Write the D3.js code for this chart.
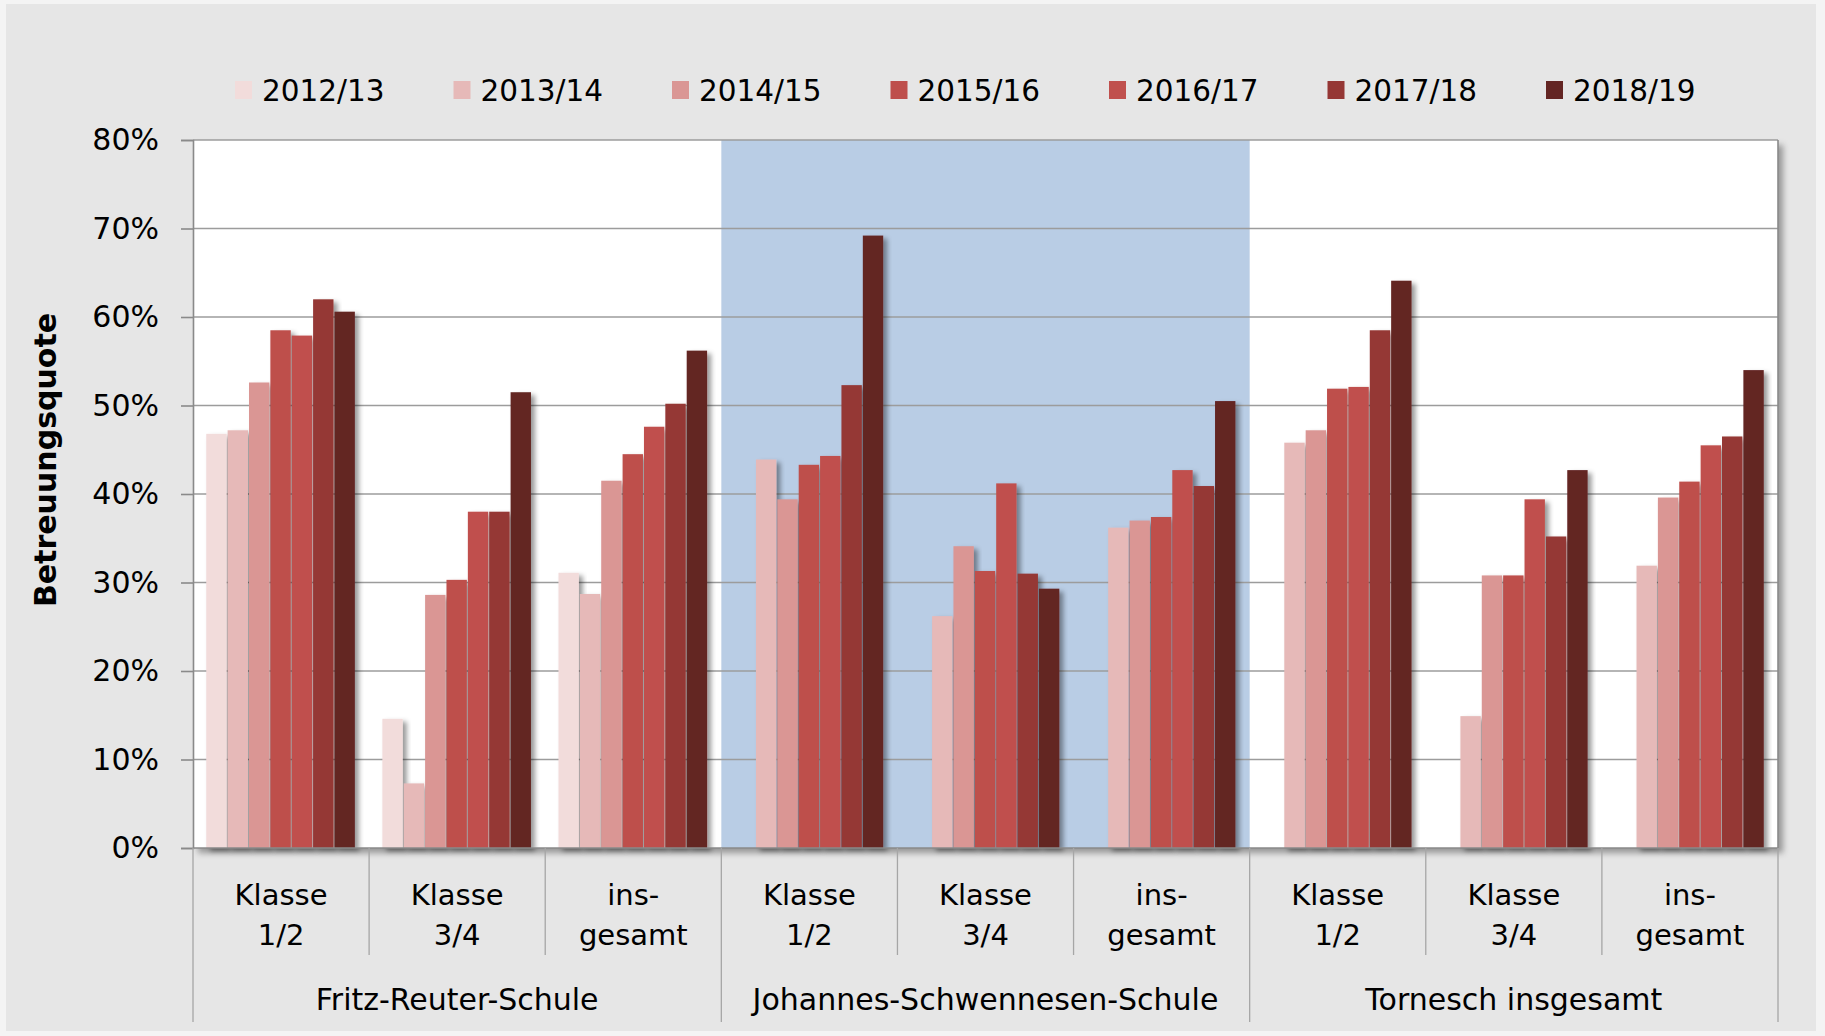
<!DOCTYPE html>
<html>
<head>
	<title>Betreuungsquote</title>
	<script type="text/javascript" src="https://cdnjs.cloudflare.com/ajax/libs/d3/7.8.5/d3.min.js"></script>
	<style>
		body { margin: 0; background: #f4f4f4; }
		text { font-family: "DejaVu Sans", Verdana, sans-serif; fill: #000; }
	</style>
</head>
<body>
	<svg id="chart" width="1825" height="1036"></svg>
	<script type="text/javascript">
		// data (percent)
		var groups = ["Fritz-Reuter-Schule", "Johannes-Schwennesen-Schule", "Tornesch insgesamt"];
		var subLabels = [["Klasse", "1/2"], ["Klasse", "3/4"], ["ins-", "gesamt"]];
		var years = ["2012/13", "2013/14", "2014/15", "2015/16", "2016/17", "2017/18", "2018/19"];
		var colors = ["#f2dcdb", "#e6b9b8", "#da9694", "#be4f4c", "#c0504d", "#953735", "#632523"];
		var yTicks = [0, 10, 20, 30, 40, 50, 60, 70, 80];

		var v2012 = [46.8, 14.6, 31.1, null, null, null, null, null, null];
		var v2013 = [47.2, 7.3, 28.7, 43.9, 26.2, 36.2, 45.8, 14.9, 31.9];
		var v2014 = [52.6, 28.6, 41.5, 39.4, 34.1, 37.0, 47.2, 30.8, 39.6];
		var v2015 = [58.5, 30.3, 44.5, 43.3, 31.3, 37.4, 51.9, 30.8, 41.4];
		var v2016 = [57.9, 38.0, 47.6, 44.3, 41.2, 42.7, 52.1, 39.4, 45.5];
		var v2017 = [62.0, 38.0, 50.2, 52.3, 31.0, 40.9, 58.5, 35.2, 46.5];
		var v2018 = [60.6, 51.5, 56.2, 69.2, 29.3, 50.5, 64.1, 42.7, 54.0];
		var series = [v2012, v2013, v2014, v2015, v2016, v2017, v2018];

		var svg = d3.select("#chart");
		var plotLeft = 193, plotRight = 1778, plotTop = 140, plotBottom = 848;

		// categories = group x sub label
		var cats = [];
		groups.forEach(function (g, gi) {
			subLabels.forEach(function (s, si) {
				cats.push({group: gi, sub: s, index: gi * subLabels.length + si});
			});
		});

		var x0 = d3.scaleBand().domain(d3.range(cats.length)).range([plotLeft, plotRight]);
		var x1 = d3.scaleBand().domain(years).range([0, x0.bandwidth()]).paddingOuter(0.62);
		var xg = d3.scaleBand().domain(d3.range(groups.length)).range([plotLeft, plotRight]);
		var y = d3.scaleLinear().domain([0, 80]).range([plotBottom, plotTop]);

		var defs = svg.append("defs");
		var f = defs.append("filter").attr("id", "shadow")
			.attr("x", "-20%").attr("y", "-5%").attr("width", "160%").attr("height", "115%");
		f.append("feDropShadow").attr("dx", 4).attr("dy", 3).attr("stdDeviation", 2.5)
			.attr("flood-color", "#000").attr("flood-opacity", 0.4);
		var f2 = defs.append("filter").attr("id", "plotShadow")
			.attr("x", "-2%").attr("y", "-2%").attr("width", "105%").attr("height", "106%");
		f2.append("feDropShadow").attr("dx", 5).attr("dy", 5).attr("stdDeviation", 3)
			.attr("flood-color", "#000").attr("flood-opacity", 0.35);

		// background
		svg.append("rect").attr("x", 6).attr("y", 4).attr("width", 1810).attr("height", 1027).attr("fill", "#e6e6e6");

		// plot area
		svg.append("rect").attr("x", plotLeft).attr("y", plotTop).attr("width", plotRight - plotLeft).attr("height", plotBottom - plotTop)
			.attr("fill", "#fff").attr("filter", "url(#plotShadow)");
		svg.append("rect").attr("x", xg(1)).attr("y", plotTop).attr("width", xg.bandwidth()).attr("height", plotBottom - plotTop)
			.attr("fill", "#b9cde5");

		// gridlines
		svg.append("g").selectAll("line").data(yTicks.slice(1)).enter().append("line")
			.attr("x1", plotLeft).attr("x2", plotRight)
			.attr("y1", function (d) { return y(d); }).attr("y2", function (d) { return y(d); })
			.attr("stroke", "#9c9c9c").attr("stroke-width", 1.6);
		svg.append("line").attr("x1", plotRight).attr("x2", plotRight).attr("y1", plotTop).attr("y2", plotBottom)
			.attr("stroke", "#8a8a8a").attr("stroke-width", 1.6);

		// bars
		var catG = svg.append("g").selectAll("g").data(cats).enter().append("g")
			.attr("transform", function (d) { return "translate(" + x0(d.index) + ",0)"; });
		catG.selectAll("rect")
			.data(function (d) {
				return years.map(function (yr, k) { return {year: yr, k: k, v: series[k][d.index]}; })
					.filter(function (b) { return b.v != null; });
			})
			.enter().append("rect")
			.attr("x", function (d) { return x1(d.year); })
			.attr("y", function (d) { return y(d.v); })
			.attr("width", x1.bandwidth() - 1)
			.attr("height", function (d) { return y(0) - y(d.v); })
			.attr("fill", function (d) { return colors[d.k]; })
			.attr("filter", "url(#shadow)");

		// y axis
		var yAxis = svg.append("g").attr("transform", "translate(" + plotLeft + ",0)")
			.call(d3.axisLeft(y).tickValues(yTicks).tickSize(12).tickPadding(22)
				.tickFormat(function (d) { return d + "%"; }));
		yAxis.select(".domain").attr("stroke", "#8a8a8a").attr("stroke-width", 1.6);
		yAxis.selectAll(".tick line").attr("stroke", "#8a8a8a").attr("stroke-width", 1.6);
		yAxis.selectAll(".tick text").attr("font-size", 30).attr("font-family", "DejaVu Sans").attr("fill", "#000");

		svg.append("text")
			.attr("transform", "translate(56,460) rotate(-90)")
			.attr("text-anchor", "middle")
			.attr("font-size", 30).attr("font-weight", "bold")
			.text("Betreuungsquote");

		// x axis line and separators
		svg.append("line").attr("x1", plotLeft).attr("x2", plotRight).attr("y1", plotBottom).attr("y2", plotBottom)
			.attr("stroke", "#8a8a8a").attr("stroke-width", 1.6);
		svg.append("g").selectAll("line").data(d3.range(cats.length + 1)).enter().append("line")
			.attr("x1", function (d) { return plotLeft + d * x0.step(); })
			.attr("x2", function (d) { return plotLeft + d * x0.step(); })
			.attr("y1", plotBottom)
			.attr("y2", function (d) { return d % subLabels.length == 0 ? 1022 : 955; })
			.attr("stroke", "#a6a6a6").attr("stroke-width", 1.3);

		var labG = svg.append("g").selectAll("text").data(cats).enter().append("text")
			.attr("text-anchor", "middle").attr("font-size", 29)
			.attr("x", function (d) { return x0(d.index) + x0.bandwidth() / 2; });
		labG.append("tspan").attr("y", 905).text(function (d) { return d.sub[0]; })
			.attr("x", function (d) { return x0(d.index) + x0.bandwidth() / 2; });
		labG.append("tspan").attr("y", 945).text(function (d) { return d.sub[1]; })
			.attr("x", function (d) { return x0(d.index) + x0.bandwidth() / 2; });

		svg.append("g").selectAll("text").data(groups).enter().append("text")
			.attr("text-anchor", "middle").attr("font-size", 30)
			.attr("x", function (d, i) { return xg(i) + xg.bandwidth() / 2; })
			.attr("y", 1010)
			.text(function (d) { return d; });

		// legend
		var leg = svg.append("g").selectAll("g").data(years).enter().append("g")
			.attr("transform", function (d, i) { return "translate(" + (235 + i * 218.5) + ",0)"; });
		leg.append("rect").attr("x", 0).attr("y", 81).attr("width", 17).attr("height", 18)
			.attr("fill", function (d, i) { return colors[i]; });
		leg.append("text").attr("x", 27).attr("y", 101).attr("font-size", 29.5)
			.text(function (d) { return d; });
	</script>
</body>
</html>
